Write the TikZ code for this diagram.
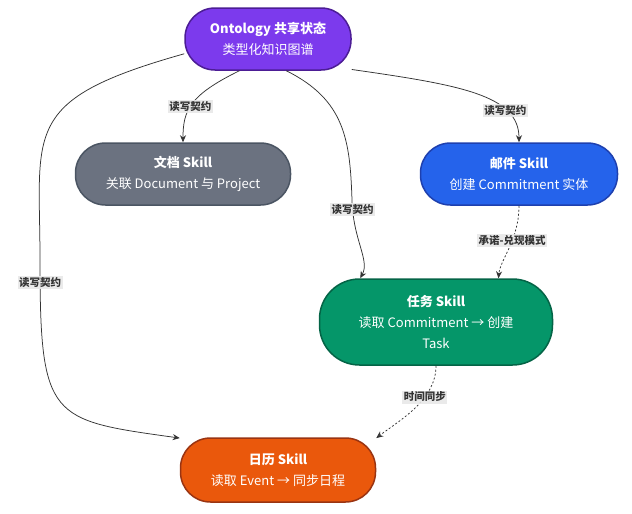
\documentclass[tikz,border=0pt]{standalone}
\usepackage{fontspec}
\setmainfont{Noto Sans CJK SC}
\usetikzlibrary{arrows.meta}
\tikzset{every picture/.style={line width=0.75pt}}
\tikzset{
	skill/.style={rounded corners=30pt, draw, line width=1.5pt, text=white, align=center, inner sep=0pt, font=\fontsize{13}{21}\selectfont},
	link/.style={draw={rgb,255:red,51;green,51;blue,51}, -{Stealth[length=7pt,width=6pt]}},
	weak/.style={link, dash pattern={on 2pt off 2pt}},
	tag/.style={fill={rgb,255:red,232;green,232;blue,232}, fill opacity=0.9, text opacity=1, inner sep=1.5pt, font=\fontsize{10.5}{12}\selectfont\bfseries, text={rgb,255:red,51;green,51;blue,51}}
}

\begin{document}
\begin{tikzpicture}[x=1pt,y=1pt,yscale=-1,xscale=1]
	\useasboundingbox (0,0) rectangle (632,514);
	
	% Skill nodes
	\node (onto) [skill, fill={rgb,255:red,124;green,58;blue,237}, draw={rgb,255:red,76;green,29;blue,149}, minimum width=166pt, minimum height=62pt] at (268,39) {\textbf{Ontology 共享状态}\\类型化知识图谱};
	\node (doc) [skill, fill={rgb,255:red,107;green,114;blue,128}, draw={rgb,255:red,75;green,85;blue,99}, minimum width=215pt, minimum height=62pt] at (183,174) {\textbf{文档 Skill}\\关联 Document 与 Project};
	\node (mail) [skill, fill={rgb,255:red,37;green,99;blue,235}, draw={rgb,255:red,30;green,64;blue,175}, minimum width=197pt, minimum height=62pt] at (519,174) {\textbf{邮件 Skill}\\创建 Commitment 实体};
	\node (task) [skill, rounded corners=40pt, fill={rgb,255:red,5;green,150;blue,105}, draw={rgb,255:red,4;green,100;blue,70}, minimum width=233pt, minimum height=86pt] at (436,322) {\textbf{任务 Skill}\\读取 Commitment → 创建\\Task};
	\node (cal) [skill, fill={rgb,255:red,234;green,88;blue,12}, draw={rgb,255:red,154;green,52;blue,18}, minimum width=195pt, minimum height=64pt] at (278,470) {\textbf{日历 Skill}\\读取 Event → 同步日程};
	
	% Links
	\draw [link] (onto.228) .. controls (190,95) and (183,110) .. (doc.north) node [tag, pos=0.55] {读写契约};
	\draw [link] (onto.-20) .. controls (460,85) and (519,95) .. (mail.north) node [tag, pos=0.72] {读写契约};
	\draw [link] (onto.-60) .. controls (345,100) and (350,140) .. (352,200) .. controls (353,240) and (370,260) .. (task.150) node [tag, pos=0.08] {读写契约};
	\draw [link] (onto.190) .. controls (20,100) and (40,130) .. (40,260) .. controls (40,420) and (50,420) .. (cal.162) node [tag, pos=0.05] {读写契约};
	\draw [weak] (mail.south) .. controls (519,240) and (500,260) .. (task.35) node [tag, pos=0.4] {承诺-兑现模式};
	\draw [weak] (task.south) .. controls (436,400) and (400,420) .. (cal.18) node [tag, pos=0.35] {时间同步};
	
\end{tikzpicture}
\end{document}
